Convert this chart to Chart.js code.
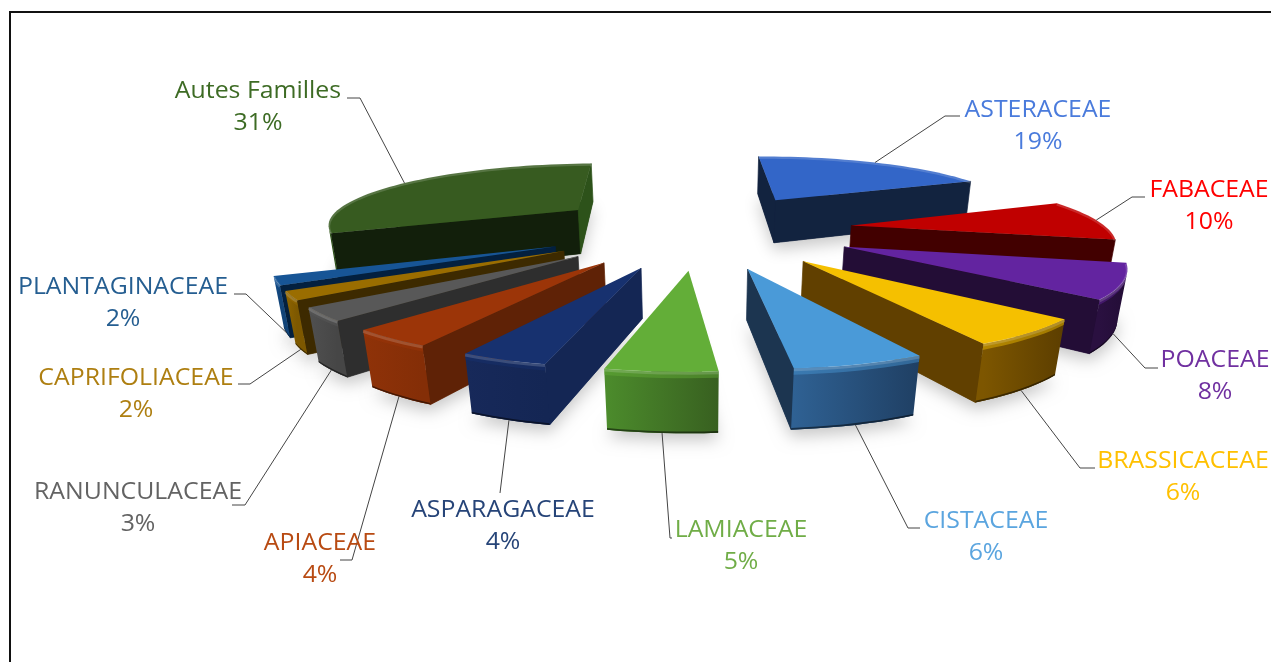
<!DOCTYPE html>
<html>
<head>
<meta charset="utf-8">
<title>Familles</title>
<script src="https://cdn.jsdelivr.net/npm/chart.js@4"></script>
<style>
  html, body { margin: 0; padding: 0; width: 1271px; height: 662px; overflow: hidden; background: #fff; }
  #wrap { position: relative; width: 1271px; height: 662px; }
  #frame { position: absolute; left: 9px; top: 11px; width: 1400px; height: 800px; border: 2px solid #111; }
  canvas { position: absolute; left: 0; top: 0; }
</style>
</head>
<body>
<div id="wrap">
  <div id="frame"></div>
  <canvas id="grafico" width="1271" height="662"></canvas>
</div>
<script>
const familles = ["ASTERACEAE", "FABACEAE", "POACEAE", "BRASSICACEAE", "CISTACEAE", "LAMIACEAE",
  "ASPARAGACEAE", "APIACEAE", "RANUNCULACEAE", "CAPRIFOLIACEAE", "PLANTAGINACEAE", "Autes Familles"];
const pourcentages = [19, 10, 8, 6, 6, 5, 4, 4, 3, 2, 2, 31];

// couleurs
const couleursDessus = ["#3366c8", "#c00000", "#6324a0", "#f5c000", "#4a9ad8", "#63ae38",
  "#17316f", "#9c3508", "#585858", "#9a6d00", "#175596", "#375b20"];
const couleursCoupeA = ["#12233f", "#420000", "#230d36", "#614000", "#1c3550", "#3c6c22",
  "#142654", "#5f2206", "#2e2e2e", "#3d2a00", "#03203f", "#121f0b"];
const couleursCoupeB = ["#12233f", "#420000", "#230d36", "#614000", "#1c3550", "#3c6c22",
  "#142654", "#5f2206", "#2e2e2e", "#3d2a00", "#03203f", "#2d521a"];
const couleursBordClair = ["#1a3460", "#5a0000", "#2a1040", "#7d5600", "#2f6193", "#4c8c2c",
  "#17295a", "#8f3208", "#505050", "#8f6500", "#15508f", "#2d521a"];
const couleursBordSombre = ["#12233f", "#420000", "#230d36", "#5c3e00", "#1f3f63", "#386020",
  "#142654", "#842e07", "#464646", "#7d5800", "#124478", "#2d521a"];
const couleursTexte = ["#4a7bdc", "#ff0000", "#7030a0", "#ffc000", "#5ba5df", "#70ad47",
  "#264478", "#b84a12", "#636363", "#ae7f11", "#255e91", "#3d6b24"];

// emplacement des étiquettes et des coudes des lignes de repère
const centresEtiquettes = [[1038, 110], [1209, 190], [1215, 360], [1183, 461], [986, 521], [741, 530],
  [503, 510], [320, 543], [138, 492], [136, 378], [123, 287], [258, 91]];
const coudes = [[[960, 116], [945, 116]], [[1145, 197], [1132, 197]], [[1158, 368], [1145, 368]],
  [[1095, 468], [1080, 468]], [[920, 528], [908, 528]], [[672, 538], [670, 538]],
  [[500, 493], [500, 493]], [[340, 560], [352, 560]], [[232, 505], [245, 505]],
  [[238, 384], [250, 384]], [[234, 294], [246, 294]], [[347, 98], [360, 98]]];

// caméra : projection perspective du plan du camembert
const camera = { cx: 700, horizon: -93, dist: 3.247, fx: 1328, fy: 1045, hauteur: 175, fuite: 0.07 };

function projeter(u, v, z) {
  const d = camera.dist - v + camera.fuite * z;
  return [camera.cx + camera.fx * u / d, camera.horizon + (camera.fy + camera.hauteur * z) / d];
}

// Décrit une part à partir de la géométrie calculée par Chart.js
function lirePart(arc) {
  const total = arc.outerRadius + arc.options.offset;
  const r = arc.outerRadius / total;
  const e = arc.options.offset / total;
  const milieu = (arc.startAngle + arc.endAngle) / 2;
  const ox = e * Math.cos(milieu);
  const oy = e * Math.sin(milieu);
  const bord = [];
  const pas = Math.max(4, Math.ceil((arc.endAngle - arc.startAngle) / 0.04));
  for (let i = 0; i <= pas; i++) {
    const a = arc.startAngle + (arc.endAngle - arc.startAngle) * i / pas;
    bord.push([ox + r * Math.cos(a), oy + r * Math.sin(a)]);
  }
  return { ox, oy, r, milieu, bord };
}

function tracer(ctx, pts) {
  ctx.beginPath();
  pts.forEach((p, i) => (i ? ctx.lineTo(p[0], p[1]) : ctx.moveTo(p[0], p[1])));
  ctx.closePath();
}

function aire(pts) {
  let s = 0;
  pts.forEach((p, i) => {
    const q = pts[(i + 1) % pts.length];
    s += p[0] * q[1] - q[0] * p[1];
  });
  return s / 2;
}

function quad(a, b, z0, z1) {
  return [projeter(a[0], a[1], z0), projeter(b[0], b[1], z0), projeter(b[0], b[1], z1), projeter(a[0], a[1], z1)];
}

function mur(ctx, a, b, couleur) {
  const q = quad(a, b, 0, 1);
  if (aire(q) >= 0) return; // face cachée
  tracer(ctx, q);
  ctx.fillStyle = couleur;
  ctx.fill();
  ctx.strokeStyle = couleur;
  ctx.lineWidth = 0.7;
  ctx.stroke();
}

// bande du bord entre deux hauteurs, d'un seul tenant pour éviter les coutures
function bandeBord(ctx, points, z0, z1) {
  const haut = points.map(p => projeter(p[0], p[1], z0));
  const bas = points.map(p => projeter(p[0], p[1], z1)).reverse();
  tracer(ctx, haut.concat(bas));
}

function dessinerPart(ctx, part, i, couleurDessus) {
  const sommet = [part.ox, part.oy];
  const bord = part.bord;
  const debut = bord[0];
  const fin = bord[bord.length - 1];

  // ombre douce sous la part
  ctx.save();
  ctx.shadowColor = "rgba(0,0,0,0.22)";
  ctx.shadowBlur = 16;
  ctx.shadowOffsetY = 7;
  tracer(ctx, [sommet, ...bord].map(p => projeter(p[0], p[1], 1)));
  ctx.fillStyle = couleursBordSombre[i];
  ctx.fill();
  ctx.restore();

  // les deux coupes
  mur(ctx, sommet, debut, couleursCoupeA[i]);
  mur(ctx, fin, sommet, couleursCoupeB[i]);

  // bord extérieur : seulement les segments tournés vers nous
  const visibles = [];
  for (let k = 0; k < bord.length - 1; k++) {
    if (aire(quad(bord[k], bord[k + 1], 0, 1)) < 0) {
      if (!visibles.length || visibles[visibles.length - 1] !== bord[k]) visibles.push(bord[k]);
      visibles.push(bord[k + 1]);
    }
  }
  if (visibles.length > 1) {
    const x0 = projeter(debut[0], debut[1], 0)[0];
    const x1 = projeter(fin[0], fin[1], 0)[0];
    const degrade = ctx.createLinearGradient(Math.min(x0, x1), 0, Math.max(x0, x1), 0);
    degrade.addColorStop(0, couleursBordClair[i]);
    degrade.addColorStop(1, couleursBordSombre[i]);
    bandeBord(ctx, visibles, 0, 1);
    ctx.fillStyle = degrade;
    ctx.fill();
    // passage arrondi entre le dessus et le bord
    ctx.save();
    ctx.globalAlpha = 0.45;
    bandeBord(ctx, visibles, 0, 0.1);
    ctx.fillStyle = couleurDessus;
    ctx.fill();
    ctx.globalAlpha = 0.5;
    bandeBord(ctx, visibles, 0.97, 1);
    ctx.fillStyle = "#000";
    ctx.fill();
    ctx.restore();
  }

  // dessus
  tracer(ctx, [sommet, ...bord].map(p => projeter(p[0], p[1], 0)));
  ctx.fillStyle = couleurDessus;
  ctx.fill();

  // biseau clair le long du bord
  ctx.save();
  ctx.beginPath();
  bord.forEach((p, k) => {
    const q = projeter(p[0], p[1], 0.02);
    k ? ctx.lineTo(q[0], q[1]) : ctx.moveTo(q[0], q[1]);
  });
  ctx.strokeStyle = "rgba(255,255,255,0.16)";
  ctx.lineWidth = 3;
  ctx.lineJoin = "round";
  ctx.stroke();
  ctx.restore();
}

const pie3d = {
  id: "pie3d",
  beforeDatasetsDraw(chart) {
    const ctx = chart.ctx;
    const arcs = chart.getDatasetMeta(0).data;
    const parts = arcs.map((arc, i) => ({ i, part: lirePart(arc), couleur: arc.options.backgroundColor }));
    parts.sort((a, b) => a.part.oy - b.part.oy);
    parts.forEach(p => dessinerPart(ctx, p.part, p.i, p.couleur));
    return false; // pas de camembert plat
  },
  afterDraw(chart) {
    const ctx = chart.ctx;
    const arcs = chart.getDatasetMeta(0).data;
    ctx.save();

    // lignes de repère
    arcs.forEach((arc, i) => {
      const part = lirePart(arc);
      const bx = part.ox + part.r * Math.cos(part.milieu);
      const by = part.oy + part.r * Math.sin(part.milieu);
      const depart = projeter(bx, by, by > 0.2 ? 1 : 0);
      ctx.beginPath();
      ctx.moveTo(depart[0], depart[1]);
      ctx.lineTo(coudes[i][1][0], coudes[i][1][1]);
      ctx.lineTo(coudes[i][0][0], coudes[i][0][1]);
      ctx.strokeStyle = "#444";
      ctx.lineWidth = 1;
      ctx.stroke();
    });

    // étiquettes, un peu étirées en largeur comme sur la capture
    ctx.font = '23px "Open Sans"';
    ctx.textAlign = "center";
    ctx.textBaseline = "middle";
    familles.forEach((nom, i) => {
      ctx.fillStyle = couleursTexte[i];
      ctx.save();
      ctx.translate(centresEtiquettes[i][0], centresEtiquettes[i][1]);
      ctx.scale(1.08, 1);
      ctx.fillText(nom, 0, 0);
      ctx.fillText(pourcentages[i] + "%", 0, 32);
      ctx.restore();
    });
    ctx.restore();
  }
};

new Chart(document.getElementById("grafico").getContext("2d"), {
  type: "pie",
  data: {
    labels: familles,
    datasets: [{
      data: pourcentages,
      backgroundColor: couleursDessus,
      borderWidth: 0,
      offset: 153
    }]
  },
  options: {
    responsive: false,
    animation: false,
    rotation: -1.6,
    layout: { padding: 0 },
    events: [],
    plugins: { legend: { display: false }, tooltip: { enabled: false } }
  },
  plugins: [pie3d]
});
</script>
</body>
</html>
